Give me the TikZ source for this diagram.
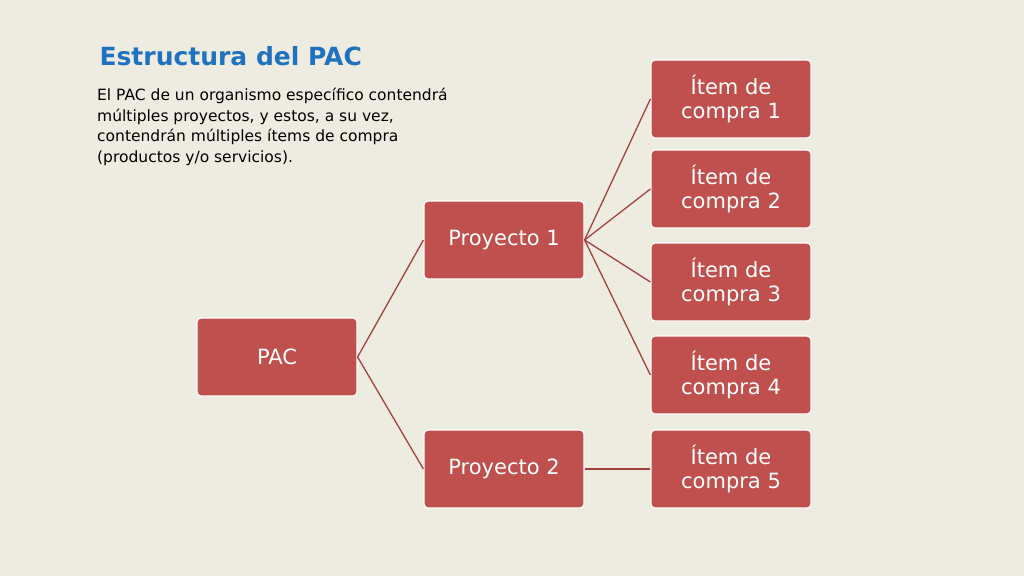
\documentclass[tikz,border=0pt]{standalone}
\usepackage{fontspec}
\setmainfont{DejaVu Sans}
\usetikzlibrary{positioning}
\definecolor{bgpaper}{HTML}{EEEBE0}
\definecolor{boxred}{HTML}{C0504D}
\definecolor{linkred}{HTML}{A2423F}
\definecolor{titleblue}{HTML}{1F72BF}
\tikzset{
  box/.style={draw=white, line width=1.2pt, fill=boxred, rounded corners=4pt,
    minimum width=160pt, minimum height=78pt, text=white, align=center,
    font=\fontsize{21}{24}\selectfont},
  link/.style={draw=linkred, line width=1.3pt}
}
\begin{document}
\begin{tikzpicture}[x=1pt,y=-1pt]
\useasboundingbox[fill=bgpaper] (0,0) rectangle (1024,576);
% titulo y texto
\node[anchor=west, text=titleblue, font=\fontsize{25}{28}\selectfont\bfseries] (title) at (96,56) {Estructura del PAC};
\node[anchor=north west, align=left, inner sep=0pt, font=\fontsize{15.5}{20.5}\selectfont] (intro) at (97,88)
  {El PAC de un organismo específico contendrá\\múltiples proyectos, y estos, a su vez,\\contendrán múltiples ítems de compra\\(productos y/o servicios).};
% cajas
\node[box] (pac) at (277,357) {PAC};
\node[box] (proy1) at (504,240) {Proyecto 1};
\node[box] (proy2) at (504,469) {Proyecto 2};
\node[box] (item1) at (731,99) {Ítem de\\compra 1};
\node[box] (item2) at (731,189) {Ítem de\\compra 2};
\node[box] (item3) at (731,282) {Ítem de\\compra 3};
\node[box] (item4) at (731,375) {Ítem de\\compra 4};
\node[box] (item5) at (731,469) {Ítem de\\compra 5};
% conectores
\draw[link] (pac.east) -- (proy1.west);
\draw[link] (pac.east) -- (proy2.west);
\foreach \i in {1,...,4}
  \draw[link] (proy1.east) -- (item\i.west);
\draw[link] (proy2.east) -- (item5.west);
\end{tikzpicture}
\end{document}
